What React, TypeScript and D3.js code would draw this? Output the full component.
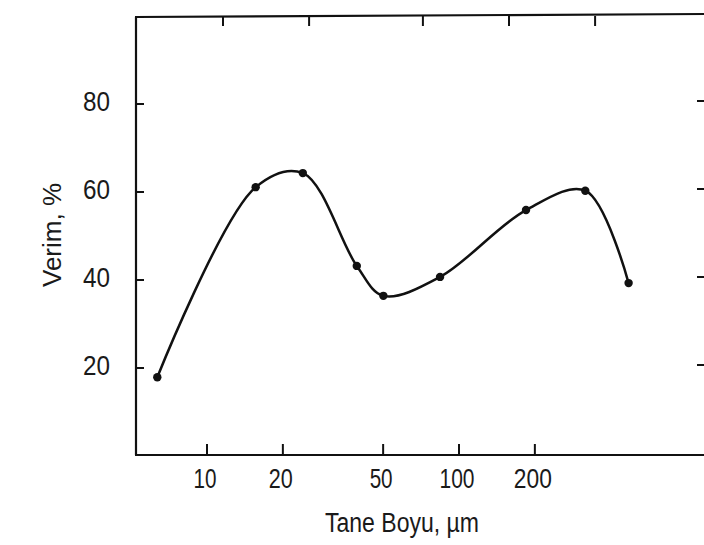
import React from "react";
import * as d3 from "d3";

const grainSize = [6.35, 15.6, 24.0, 39.3, 50.1, 84.1, 184.5, 317, 471];
const yieldPct = [17.9, 61.1, 64.3, 43.2, 36.4, 40.7, 55.9, 60.3, 39.3];
const xTicks = [10, 20, 50, 100, 200];
const xTickLabels = ["10", "20", "50", "100", "200"];
const yTicks = [20, 40, 60, 80];
const yTickLabels = ["20", "40", "60", "80"];
const xTitle = "Tane Boyu, µm";
const yTitle = "Verim, %";

const W = 704;
const H = 545;

export default function App() {
  const x = d3.scaleLog().domain([10, 100]).range([207, 459]);
  const xTop = d3.scaleLog().domain([10, 100]).range([223, 509]);
  const y = d3.scaleLinear().domain([0, 100]).range([456, 16]);

  const pts: [number, number][] = grainSize.map((g, i) => [x(g), y(yieldPct[i])]);
  const line = d3.line().curve(d3.curveCatmullRom.alpha(0.5))(pts) || "";

  const left = 136;
  const bottom = 455;
  const font = "'Liberation Sans', Arial, sans-serif";
  const tickLabelWidths = [23, 24, 23, 35, 38];

  return (
    <div style={{ position: "absolute", left: 0, top: 0 }}>
      <svg width={W} height={H} style={{ display: "block", background: "#fff" }}>
        <rect x={0} y={0} width={W} height={H} fill="#fff" />
        {/* frame */}
        <g stroke="#111" strokeWidth={2.2} fill="none">
          <line x1={left} y1={17} x2={left} y2={bottom} />
          <line x1={left - 1} y1={bottom} x2={W} y2={bottom} />
          <line x1={left - 1} y1={17} x2={W} y2={14} />
        </g>
        {/* ticks */}
        <g stroke="#111" strokeWidth={2}>
          {xTicks.map((t) => (
            <line key={"bx" + t} x1={x(t)} x2={x(t)} y1={bottom} y2={bottom - 11} />
          ))}
          {xTicks.map((t) => (
            <line key={"tx" + t} x1={xTop(t)} x2={xTop(t)} y1={16} y2={26} />
          ))}
          {yTicks.map((t) => (
            <line key={"ly" + t} x1={left} x2={left + 8} y1={y(t)} y2={y(t)} />
          ))}
          {yTicks.map((t) => (
            <line key={"ry" + t} x1={W - 7} x2={W} y1={y(t) - 3} y2={y(t) - 3} />
          ))}
        </g>
        {/* tick labels */}
        <g fill="#1a1a1a" fontFamily={font} fontSize={28}>
          {xTicks.map((t, i) => (
            <text
              key={"xl" + t}
              x={x(t) - 2}
              y={488}
              textAnchor="middle"
              textLength={tickLabelWidths[i]}
              lengthAdjust="spacingAndGlyphs"
            >
              {xTickLabels[i]}
            </text>
          ))}
          {yTicks.map((t, i) => (
            <text
              key={"yl" + t}
              x={110}
              y={y(t) + 7}
              textAnchor="end"
              textLength={27}
              lengthAdjust="spacingAndGlyphs"
            >
              {yTickLabels[i]}
            </text>
          ))}
        </g>
        {/* axis titles */}
        <text
          x={402}
          y={532}
          textAnchor="middle"
          fontFamily={font}
          fontSize={27}
          fill="#1a1a1a"
          textLength={154}
          lengthAdjust="spacingAndGlyphs"
        >
          {xTitle}
        </text>
        <text
          transform={`translate(61,235) rotate(-90)`}
          textAnchor="middle"
          fontFamily={font}
          fontSize={25}
          fill="#1a1a1a"
          textLength={104}
          lengthAdjust="spacingAndGlyphs"
        >
          {yTitle}
        </text>
        {/* curve */}
        <path d={line} fill="none" stroke="#111" strokeWidth={2.5} />
        {pts.map((p, i) => (
          <circle key={i} cx={p[0]} cy={p[1]} r={4.2} fill="#111" />
        ))}
      </svg>
    </div>
  );
}
